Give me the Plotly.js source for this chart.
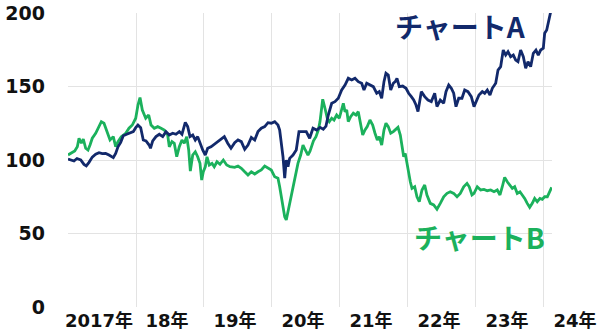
<!DOCTYPE html>
<html>
<head>
<meta charset="utf-8">
<script src="https://cdn.plot.ly/plotly-3.0.1.min.js"></script>
<style>html,body{margin:0;padding:0;background:#fff;}#chart{width:600px;height:332px;}</style>
</head>
<body>
<div id="chart"></div>
<script>
// Decimal-year time stamps and index values (start = 100)
const timeA = [2017.000,2017.040,2017.088,2017.132,2017.187,2017.235,2017.269,2017.309,2017.357,2017.407,2017.456,2017.504,2017.554,2017.603,2017.666,2017.701,2017.735,2017.775,2017.813,2017.863,2017.912,2017.960,2017.996,2018.029,2018.069,2018.107,2018.147,2018.196,2018.213,2018.246,2018.294,2018.343,2018.393,2018.441,2018.490,2018.540,2018.588,2018.637,2018.676,2018.725,2018.760,2018.794,2018.834,2018.872,2018.907,2018.946,2018.981,2019.019,2019.054,2019.103,2019.151,2019.201,2019.250,2019.299,2019.349,2019.397,2019.451,2019.500,2019.549,2019.599,2019.647,2019.696,2019.746,2019.794,2019.843,2019.893,2019.941,2019.990,2020.040,2020.088,2020.113,2020.137,2020.162,2020.187,2020.210,2020.235,2020.260,2020.309,2020.357,2020.397,2020.456,2020.504,2020.554,2020.603,2020.657,2020.706,2020.754,2020.794,2020.828,2020.878,2020.926,2020.975,2021.025,2021.074,2021.122,2021.172,2021.221,2021.269,2021.319,2021.353,2021.393,2021.441,2021.490,2021.540,2021.578,2021.613,2021.647,2021.676,2021.710,2021.746,2021.784,2021.813,2021.838,2021.872,2021.922,2021.971,2022.010,2022.049,2022.084,2022.118,2022.147,2022.196,2022.246,2022.294,2022.343,2022.393,2022.426,2022.475,2022.525,2022.559,2022.599,2022.637,2022.672,2022.706,2022.746,2022.794,2022.834,2022.882,2022.931,2022.971,2023.010,2023.044,2023.093,2023.128,2023.166,2023.206,2023.240,2023.290,2023.324,2023.363,2023.401,2023.437,2023.471,2023.510,2023.549,2023.584,2023.618,2023.657,2023.696,2023.731,2023.765,2023.804,2023.843,2023.882,2023.916,2023.951,2023.990,2024.010,2024.040,2024.074,2024.099];
const valueA = [100.7,100,99.3,101,100,97,96,98.4,102,103.9,105,104.3,104.5,103.4,101.6,104.5,109,112,116.5,117.5,118.6,119.3,122,123.8,122,113.6,113,110,108,113,115.9,117.5,115.9,119.3,117,118.2,117.5,119.3,117.5,125.6,122.7,115.9,117,113.6,115.9,110.7,106.8,103.4,108,109,110.7,112,113.6,115.9,111.4,108,111.8,113.6,112.5,107.3,110.2,115.4,113.6,119.3,121.6,122.7,125.4,125,126.1,123.8,120.4,111.4,102.2,87.6,100,95.4,101.1,103.4,106.8,119.3,119.3,119.3,114.8,121.6,120.4,122.2,120.9,123.1,130.6,138.6,139.7,142,147.6,151,155.6,154.4,155.6,153.3,152.2,147.6,152.2,151,149.9,145.4,146.5,142,153.3,159,157.8,147.6,152.2,153.3,155.6,149.9,150.3,148.8,145.4,143.1,140.8,137.4,132.9,146.5,143.1,140.8,139.7,145.4,136.3,140.8,138.6,146.5,151,148.8,145.4,136.3,142,142,147.6,146.5,143.1,136.3,140.8,144.2,146.5,145.4,147.6,144.2,148.8,152.2,161.2,163.5,174.8,171.4,173.7,170.3,171.4,168,166.9,174.8,170.3,162.4,166.9,163.5,172.6,174.8,171.4,174.8,176,186.2,188.4,196.4,200.9];

const timeB = [2017.000,2017.049,2017.099,2017.137,2017.162,2017.196,2017.225,2017.260,2017.294,2017.324,2017.357,2017.407,2017.456,2017.490,2017.529,2017.569,2017.618,2017.666,2017.701,2017.735,2017.784,2017.849,2017.897,2017.946,2017.996,2018.029,2018.059,2018.093,2018.143,2018.187,2018.221,2018.269,2018.319,2018.368,2018.416,2018.466,2018.490,2018.529,2018.563,2018.599,2018.637,2018.676,2018.710,2018.746,2018.775,2018.799,2018.834,2018.872,2018.907,2018.941,2018.966,2018.990,2019.019,2019.044,2019.078,2019.118,2019.151,2019.191,2019.235,2019.284,2019.334,2019.382,2019.451,2019.500,2019.549,2019.599,2019.647,2019.696,2019.746,2019.794,2019.843,2019.893,2019.941,2019.990,2020.040,2020.088,2020.113,2020.137,2020.162,2020.187,2020.210,2020.235,2020.260,2020.284,2020.309,2020.334,2020.357,2020.382,2020.422,2020.456,2020.490,2020.529,2020.559,2020.584,2020.610,2020.647,2020.681,2020.706,2020.746,2020.779,2020.813,2020.843,2020.878,2020.912,2020.951,2020.990,2021.025,2021.049,2021.074,2021.099,2021.122,2021.157,2021.196,2021.235,2021.269,2021.304,2021.334,2021.368,2021.401,2021.441,2021.481,2021.515,2021.549,2021.578,2021.613,2021.647,2021.676,2021.710,2021.746,2021.784,2021.813,2021.853,2021.887,2021.912,2021.937,2021.960,2021.985,2022.010,2022.034,2022.059,2022.099,2022.132,2022.166,2022.206,2022.246,2022.279,2022.328,2022.378,2022.426,2022.475,2022.525,2022.574,2022.622,2022.672,2022.721,2022.769,2022.819,2022.868,2022.901,2022.941,2022.971,2023.019,2023.069,2023.118,2023.166,2023.216,2023.265,2023.313,2023.353,2023.387,2023.422,2023.460,2023.500,2023.534,2023.569,2023.607,2023.647,2023.681,2023.716,2023.754,2023.790,2023.828,2023.863,2023.901,2023.941,2023.975,2024.010,2024.049,2024.088,2024.113];
const valueB = [103.4,104.5,106.1,109,114.8,111.4,114.3,108,106.8,110.2,114.8,118.2,122.7,126.1,125,119.3,113.6,115.9,109,112.5,115.9,118.2,121.6,123.8,128.4,137.4,142.5,134,128.4,130.6,123.8,121.6,122.7,121.6,120.4,117,109,112.5,111.4,102.2,109,113.6,111.4,115.9,106.8,92.5,103.4,105.6,102.2,97.7,86.4,92,95.4,102.2,96.6,97.7,95.4,98.8,97.1,100,96.6,95.4,95,95.9,94.4,92,89.8,92,90.5,92,93.2,95.9,94.4,93.2,88.6,87.6,81.8,75,68.2,61.4,59.2,64.8,70.5,77.3,83,87.6,92,97.7,103.4,110.2,106.8,103.4,106,109,113,115.9,120.4,126.1,141.3,135.2,128.4,126.1,128.4,127.2,130.6,128.4,135.2,138.6,132.9,134,126.1,129.5,131.8,130.6,132.9,122.7,117,120.4,122.7,127.2,123.8,118.2,113.6,115.9,110.2,120.4,125,122.7,118.2,119.3,120.4,122.2,117,109,102.2,104.5,97.7,91,85.2,80.7,81.8,75,71.6,79.6,83,76.2,70.5,69.4,66.5,70.5,75,77.3,78.4,77.3,75,77.3,81.8,84.1,81.8,76.2,77.3,81.8,79.6,80,79.1,79.6,78.4,79.6,76.2,81.8,88.2,85.2,83,80.7,81.8,77.3,78.4,76.2,73.9,70.5,67.8,70.5,73.9,71.6,73.9,73.3,75,75,79.6,81.4];

const yearTicks = [2017, 2018, 2019, 2020, 2021, 2022, 2023, 2024];
const yearLabels = ['2017年', '18年', '19年', '20年', '21年', '22年', '23年', '24年'];
const seriesNames = ['チャートA', 'チャートB'];

const navy = '#12296b';
const green = '#1bb15c';
const fontFam = 'DejaVu Sans, "Noto Sans CJK JP", sans-serif';

const traces = [
  {x: timeB, y: valueB, type: 'scatter', mode: 'lines', name: seriesNames[1],
   line: {color: green, width: 2.8}},
  {x: timeA, y: valueA, type: 'scatter', mode: 'lines', name: seriesNames[0],
   line: {color: navy, width: 2.8}}
];

const layout = {
  width: 600, height: 332,
  margin: {l: 68, r: 48, t: 13, b: 25},
  paper_bgcolor: '#ffffff', plot_bgcolor: '#ffffff',
  showlegend: false,
  xaxis: {
    range: [2017, 2024.118],
    tickvals: yearTicks, ticktext: yearLabels,
    showgrid: true, gridcolor: '#e3e3e3', gridwidth: 1,
    zeroline: false, showline: false, ticks: '',
    ticklabelshift: 31, ticklabelstandoff: 1,
    tickfont: {family: fontFam, size: 18, color: '#111', weight: 'bold'}
  },
  yaxis: {
    range: [0, 200], tickvals: [0, 50, 100, 150, 200],
    showgrid: true, gridcolor: '#e3e3e3', gridwidth: 1,
    zeroline: false, showline: false, ticks: '',
    ticklabelstandoff: 22,
    tickfont: {family: fontFam, size: 19, color: '#111', weight: 'bold'}
  },
  annotations: [
    {text: seriesNames[0], xref: 'paper', yref: 'paper', x: 0.81, y: 0.956,
     xanchor: 'center', yanchor: 'middle', showarrow: false,
     font: {family: '"Noto Sans CJK JP", sans-serif', size: 28, color: navy, weight: 'bold'}},
    {text: seriesNames[1], xref: 'paper', yref: 'paper', x: 0.851, y: 0.238,
     xanchor: 'center', yanchor: 'middle', showarrow: false,
     font: {family: '"Noto Sans CJK JP", sans-serif', size: 28, color: green, weight: 'bold'}}
  ]
};

Plotly.newPlot('chart', traces, layout, {displayModeBar: false, staticPlot: true});
</script>
</body>
</html>
